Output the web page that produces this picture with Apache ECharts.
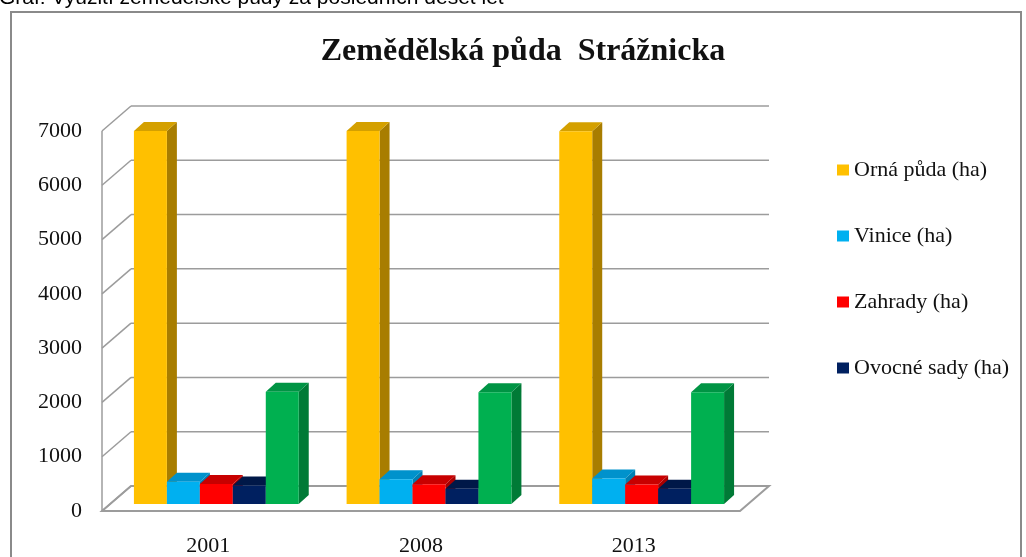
<!DOCTYPE html>
<html>
<head>
<meta charset="utf-8">
<script src="https://cdn.jsdelivr.net/npm/echarts@6/dist/echarts.min.js"></script>
<style>
  html, body { margin: 0; padding: 0; background: #fff; }
  #chart { width: 1026px; height: 557px; }
</style>
</head>
<body>
<div id="chart"></div>
<script>
// hodnoty
var years = ['2001', '2008', '2013'];
var seriesNames = ['Orná půda (ha)', 'Vinice (ha)', 'Zahrady (ha)', 'Ovocné sady (ha)', 'Trvalé travní porosty (ha)'];
var ornaPuda = [6870, 6870, 6865];
var vinice = [410, 455, 470];
var zahrady = [370, 365, 360];
var ovocneSady = [340, 280, 280];
var travniPorosty = [2070, 2060, 2060];
var yTicks = [0, 1000, 2000, 3000, 4000, 5000, 6000, 7000];

var values = [ornaPuda, vinice, zahrady, ovocneSady, travniPorosty];
// front / side / top colours
var colors = [
  ['#FFC000', '#A87D00', '#D4A000'],
  ['#00B0F0', '#0080B4', '#0092CC'],
  ['#FF0000', '#A80000', '#C80000'],
  ['#002060', '#001238', '#001848'],
  ['#00B050', '#007A36', '#009444']
];

var DEPTH = [29, -25];     // hloubka podlahy
var FRONT = [8, -7];       // posun sloupců od přední hrany
var BAR_DEPTH = [10, -9];
var BAR_RATIO = 0.155;
var serif = 'Liberation Serif';

var myChart = echarts.init(document.getElementById('chart'));

function renderFrame(params, api) {
  var cs = params.coordSys;
  var x0 = cs.x, x1 = cs.x + cs.width;
  var st = { stroke: '#9c9c9c', lineWidth: 1.5, fill: null };
  var children = [];
  yTicks.forEach(function (v) {
    var y = api.coord([0, v])[1];
    children.push({ type: 'line', shape: { x1: x0, y1: y, x2: x0 + DEPTH[0], y2: y + DEPTH[1] }, style: st });
    if (v > 0) {
      children.push({ type: 'line', shape: { x1: x0 + DEPTH[0], y1: y + DEPTH[1], x2: x1 + DEPTH[0], y2: y + DEPTH[1] }, style: st });
    }
  });
  var y0 = api.coord([0, 0])[1];
  var yTop = api.coord([0, yTicks[yTicks.length - 1]])[1];
  children.push({ type: 'line', shape: { x1: x0, y1: yTop, x2: x0, y2: y0 }, style: st });
  children.push({
    type: 'polygon',
    shape: { points: [[x0, y0], [x1, y0], [x1 + DEPTH[0], y0 + DEPTH[1]], [x0 + DEPTH[0], y0 + DEPTH[1]]] },
    style: { stroke: '#9c9c9c', lineWidth: 2, fill: null }
  });
  return { type: 'group', children: children };
}

function makeBar(idx) {
  return function (params, api) {
    var cat = api.value(0), val = api.value(1);
    var top = api.coord([cat, val]);
    var base = api.coord([cat, 0]);
    var w = api.size([1, 0])[0] * BAR_RATIO;
    var xl = top[0] - w * values.length / 2 + idx * w + FRONT[0];
    var xr = xl + w;
    var yt = top[1] + FRONT[1], yb = base[1] + FRONT[1];
    var bx = BAR_DEPTH[0], by = BAR_DEPTH[1];
    var c = colors[idx];
    return {
      type: 'group',
      children: [
        { type: 'polygon', shape: { points: [[xr, yt], [xr + bx, yt + by], [xr + bx, yb + by], [xr, yb]] }, style: { fill: c[1] } },
        { type: 'polygon', shape: { points: [[xl, yt], [xl + bx, yt + by], [xr + bx, yt + by], [xr, yt]] }, style: { fill: c[2] } },
        { type: 'rect', shape: { x: xl, y: yt, width: w, height: yb - yt }, style: { fill: c[0] } }
      ]
    };
  };
}

var series = [{
  type: 'custom',
  name: 'frame',
  silent: true,
  z: 1,
  renderItem: renderFrame,
  data: [[0, 0]]
}];
values.forEach(function (arr, i) {
  series.push({
    type: 'custom',
    name: seriesNames[i],
    z: 2,
    itemStyle: { color: colors[i][0] },
    renderItem: makeBar(i),
    data: arr.map(function (v, j) { return [j, v]; })
  });
});

var option = {
  animation: false,
  backgroundColor: '#fff',
  graphic: [
    {
      type: 'text', left: -1, top: -12,
      style: { text: 'Graf: Využití zemědělské půdy za posledních deset let', font: '21px "Liberation Sans"', fill: '#000' }
    },
    {
      type: 'rect', shape: { x: 11, y: 12, width: 1010, height: 600 },
      style: { stroke: '#8a8a8a', lineWidth: 2, fill: null }
    },
    {
      type: 'text', x: 523, y: 52,
      style: {
        text: 'Zemědělská půda  Strážnicka',
        font: 'bold 32px "Liberation Serif"', fill: '#111',
        align: 'center', verticalAlign: 'middle'
      }
    }
  ],
  legend: {
    orient: 'vertical',
    left: 832,
    top: 154,
    icon: 'rect',
    itemWidth: 12,
    itemHeight: 11,
    itemGap: 44,
    data: seriesNames.slice(0, 4),
    textStyle: { fontFamily: serif, fontSize: 22, color: '#111' }
  },
  grid: { left: 102, right: 286, top: 131, bottom: 45 },
  xAxis: {
    type: 'category',
    data: years,
    axisLine: { show: false },
    axisTick: { show: false },
    axisLabel: { margin: 24, fontFamily: serif, fontSize: 22, color: '#111' }
  },
  yAxis: {
    type: 'value',
    min: 0,
    max: 7000,
    interval: 1000,
    axisLine: { show: false },
    axisTick: { show: false },
    splitLine: { show: false },
    axisLabel: {
      margin: 20, fontFamily: serif, fontSize: 22, color: '#111',
      formatter: function (v) { return String(v); }
    }
  },
  series: series
};
myChart.setOption(option);
</script>
</body>
</html>
